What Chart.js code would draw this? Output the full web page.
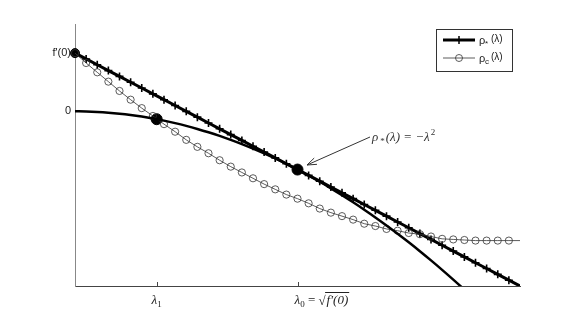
<!DOCTYPE html>
<html>
<head>
<meta charset="utf-8">
<script src="https://cdn.jsdelivr.net/npm/chart.js@4.4.1/dist/chart.umd.min.js"></script>
<style>
  html, body { margin: 0; padding: 0; background: #fff; }
  #wrap { width: 575px; height: 323px; }
</style>
</head>
<body>
<div id="wrap"><canvas id="myChart" width="575" height="323"></canvas></div>
<script>
// lambda grid (x) shared by the two marked curves
const lambdaGrid = [0, 0.05, 0.1, 0.15, 0.2, 0.25, 0.3, 0.35, 0.4, 0.45, 0.5, 0.55, 0.6, 0.65, 0.7,
    0.75, 0.8, 0.85, 0.9, 0.95, 1, 1.05, 1.1, 1.15, 1.2, 1.25, 1.3, 1.35, 1.4, 1.45, 1.5, 1.55,
    1.6, 1.65, 1.7, 1.75, 1.8, 1.85, 1.9, 1.95, 2];
// rho_* (thick line with + markers)
const rhoStar = [1, 0.9, 0.8, 0.7, 0.6, 0.5, 0.4, 0.3, 0.2, 0.1, 0, -0.1, -0.2, -0.3, -0.4,
    -0.5, -0.6, -0.7, -0.8, -0.9, -1, -1.1, -1.2, -1.3, -1.4, -1.5, -1.6, -1.7, -1.8, -1.9, -2,
    -2.1, -2.2, -2.3, -2.4, -2.5, -2.6, -2.7, -2.8, -2.9, -3];
// rho_c (thin line with circles)
const rhoC = [1, 0.83, 0.67, 0.51, 0.35, 0.2, 0.055, -0.08, -0.22, -0.35, -0.49, -0.61, -0.72, -0.84, -0.95,
    -1.05, -1.15, -1.25, -1.34, -1.43, -1.5, -1.58, -1.67, -1.74, -1.8, -1.86, -1.93, -1.97, -2.02, -2.05, -2.09,
    -2.11, -2.15, -2.19, -2.2, -2.21, -2.22, -2.22, -2.22, -2.22, -2.22];
// parabola -lambda^2
const lambdaPara = [0, 0.05, 0.1, 0.15, 0.2, 0.25, 0.3, 0.35, 0.4, 0.45, 0.5, 0.55, 0.6, 0.65, 0.7,
    0.75, 0.8, 0.85, 0.9, 0.95, 1, 1.05, 1.1, 1.15, 1.2, 1.25, 1.3, 1.35, 1.4, 1.45, 1.5, 1.55,
    1.6, 1.65, 1.7, 1.75, 1.8];
const rhoPara = [0, -0.0025, -0.01, -0.0225, -0.04, -0.0625, -0.09, -0.1225, -0.16, -0.2025, -0.25,
    -0.3025, -0.36, -0.4225, -0.49, -0.5625, -0.64, -0.7225, -0.81, -0.9025, -1, -1.1025, -1.21,
    -1.3225, -1.44, -1.5625, -1.69, -1.8225, -1.96, -2.1025, -2.25, -2.4025, -2.56, -2.7225, -2.89,
    -3.0625, -3.24];
// big black dots
const dotX = [0, 0.367, 1];
const dotY = [1, -0.135, -1];
// ticks
const xTickValues = [0.367, 1];
const yTickValues = [0, 1];
const yTickLabels = ['0', "f'(0)"];

function pts(xs, ys) {
    return xs.map(function(v, i) { return { x: v, y: ys[i] }; });
}
const lastIdx = lambdaGrid.length - 1;

// extra drawing: inward x ticks, latex-like labels, annotation, legend
const extrasPlugin = {
    id: 'extras',
    afterDraw: function(chart) {
        const ctx = chart.ctx;
        const area = chart.chartArea;
        const xs = chart.scales.x;
        ctx.save();

        // tick marks (inside)
        ctx.strokeStyle = '#444';
        ctx.lineWidth = 1;
        xTickValues.forEach(function(v) {
            const px = Math.round(xs.getPixelForValue(v)) + 0.5;
            ctx.beginPath();
            ctx.moveTo(px, area.bottom);
            ctx.lineTo(px, area.bottom - 4);
            ctx.stroke();
        });

        const base = area.bottom + 18;
        ctx.fillStyle = '#222';
        ctx.textBaseline = 'alphabetic';
        ctx.textAlign = 'left';

        // lambda_1
        let px1 = xs.getPixelForValue(xTickValues[0]);
        ctx.font = 'italic 13px "Liberation Serif"';
        let wl = ctx.measureText('λ').width;
        ctx.font = '9px "Liberation Serif"';
        let ws = ctx.measureText('1').width;
        let x0 = px1 - (wl + ws) / 2;
        ctx.font = 'italic 13px "Liberation Serif"';
        ctx.fillText('λ', x0, base);
        ctx.font = '9px "Liberation Serif"';
        ctx.fillText('1', x0 + wl, base + 3);

        // lambda_0 = sqrt(f'(0))
        let px0 = xs.getPixelForValue(xTickValues[1]);
        let cx = px0 - 3;
        ctx.font = 'italic 13px "Liberation Serif"';
        ctx.fillText('λ', cx, base);
        cx += ctx.measureText('λ').width;
        ctx.font = '9px "Liberation Serif"';
        ctx.fillText('0', cx, base + 3);
        cx += ctx.measureText('0').width;
        ctx.font = '13px "Liberation Serif"';
        ctx.fillText(' = ', cx, base);
        cx += ctx.measureText(' = ').width;
        ctx.fillText('√', cx, base + 1);
        cx += ctx.measureText('√').width;
        const rootStart = cx;
        ctx.font = 'italic 13px "Liberation Serif"';
        ctx.fillText("f′(0)", cx + 1, base);
        cx += ctx.measureText("f′(0)").width + 2;
        ctx.strokeStyle = '#222';
        ctx.beginPath();
        ctx.moveTo(rootStart - 0.5, base - 11.5);
        ctx.lineTo(cx, base - 11.5);
        ctx.stroke();

        // annotation text
        ctx.fillStyle = '#333';
        let ax = 372, ab = 141;
        ctx.font = 'italic 13px "Liberation Serif"';
        ctx.fillText('ρ', ax, ab);
        ax += ctx.measureText('ρ').width + 2;
        ctx.font = '9px "Liberation Serif"';
        ctx.fillText('*', ax, ab + 3);
        ax += ctx.measureText('*').width + 1;
        ctx.font = 'italic 13px "Liberation Serif"';
        ctx.fillText('(λ) = −λ', ax, ab);
        ax += ctx.measureText('(λ) = −λ').width;
        ctx.font = '9px "Liberation Serif"';
        ctx.fillText('2', ax + 1, ab - 6);

        // arrow
        const sx = 370, sy = 137, tx = 307, ty = 165;
        ctx.strokeStyle = '#333';
        ctx.lineWidth = 1;
        ctx.beginPath();
        ctx.moveTo(sx, sy);
        ctx.lineTo(tx, ty);
        ctx.stroke();
        const ang = Math.atan2(sy - ty, sx - tx);
        ctx.beginPath();
        ctx.moveTo(tx + 10 * Math.cos(ang + 0.35), ty + 10 * Math.sin(ang + 0.35));
        ctx.lineTo(tx, ty);
        ctx.lineTo(tx + 10 * Math.cos(ang - 0.35), ty + 10 * Math.sin(ang - 0.35));
        ctx.stroke();

        // legend box
        ctx.fillStyle = '#fff';
        ctx.fillRect(436.5, 29.5, 76, 42);
        ctx.strokeStyle = '#333';
        ctx.strokeRect(436.5, 29.5, 76, 42);
        // row 1
        ctx.strokeStyle = '#000';
        ctx.lineWidth = 3;
        ctx.beginPath();
        ctx.moveTo(443, 40);
        ctx.lineTo(475, 40);
        ctx.stroke();
        ctx.lineWidth = 1.5;
        ctx.beginPath();
        ctx.moveTo(459, 36);
        ctx.lineTo(459, 44);
        ctx.stroke();
        // row 2
        ctx.strokeStyle = '#333';
        ctx.lineWidth = 0.8;
        ctx.beginPath();
        ctx.moveTo(443, 58);
        ctx.lineTo(475, 58);
        ctx.stroke();
        ctx.beginPath();
        ctx.arc(459, 58, 3.5, 0, Math.PI * 2);
        ctx.stroke();
        // legend texts
        ctx.fillStyle = '#222';
        ctx.font = '11px "Liberation Sans"';
        ctx.fillText('ρ', 479, 44);
        ctx.fillText('ρ', 479, 62);
        ctx.font = '8px "Liberation Sans"';
        ctx.fillText('*', 485, 46);
        ctx.fillText('c', 485, 64);
        ctx.font = '10px "Liberation Sans"';
        ctx.fillText('(λ)', 491, 42);
        ctx.fillText('(λ)', 491, 60);

        ctx.restore();
    }
};

const ctxMain = document.getElementById('myChart').getContext('2d');
const myChart = new Chart(ctxMain, {
    type: 'scatter',
    data: {
        datasets: [
            {
                // parabola
                data: pts(lambdaPara, rhoPara),
                showLine: true,
                borderColor: '#000',
                borderWidth: 2.5,
                pointRadius: 0,
                cubicInterpolationMode: 'monotone',
                clip: { left: 8, top: 8, right: 8, bottom: 0 }
            },
            {
                // rho_c
                data: pts(lambdaGrid, rhoC),
                showLine: true,
                borderColor: '#333',
                borderWidth: 0.8,
                pointStyle: 'circle',
                pointRadius: function(c) { return c.dataIndex === lastIdx ? 0 : 3.6; },
                pointBorderColor: '#333',
                pointBorderWidth: 0.8,
                pointBackgroundColor: 'rgba(0,0,0,0)',
                clip: { left: 8, top: 8, right: 0, bottom: 0 }
            },
            {
                // rho_*
                data: pts(lambdaGrid, rhoStar),
                showLine: true,
                borderColor: '#000',
                borderWidth: 3,
                pointStyle: 'cross',
                pointRadius: function(c) { return c.dataIndex === lastIdx ? 0 : 4; },
                pointBorderColor: '#000',
                pointBorderWidth: 1.6,
                clip: { left: 8, top: 8, right: 0, bottom: 0 }
            },
            {
                // marked points
                data: pts(dotX, dotY),
                showLine: false,
                pointRadius: [4.5, 5.5, 5.5],
                pointBackgroundColor: '#000',
                pointBorderColor: '#000',
                clip: false
            }
        ]
    },
    options: {
        responsive: false,
        animation: false,
        layout: { padding: { top: 24, right: 55, left: 0, bottom: 0 } },
        plugins: {
            legend: { display: false },
            tooltip: { enabled: false }
        },
        scales: {
            x: {
                type: 'linear',
                min: 0,
                max: 2,
                grid: { display: false, drawTicks: false },
                border: { display: true, color: '#444', width: 1 },
                ticks: { display: false },
                afterFit: function(scale) { scale.height = 37; }
            },
            y: {
                type: 'linear',
                min: -3,
                max: 1.5,
                grid: { display: false, drawTicks: false },
                border: { display: true, color: '#888', width: 1 },
                afterBuildTicks: function(scale) {
                    scale.ticks = yTickValues.map(function(v) { return { value: v }; });
                },
                ticks: {
                    padding: 4,
                    color: '#222',
                    font: { family: '"Liberation Sans"', size: 11 },
                    callback: function(value) {
                        const i = yTickValues.indexOf(value);
                        return i >= 0 ? yTickLabels[i] : '';
                    }
                },
                afterFit: function(scale) { scale.width = 75; }
            }
        }
    },
    plugins: [extrasPlugin]
});
</script>
</body>
</html>
